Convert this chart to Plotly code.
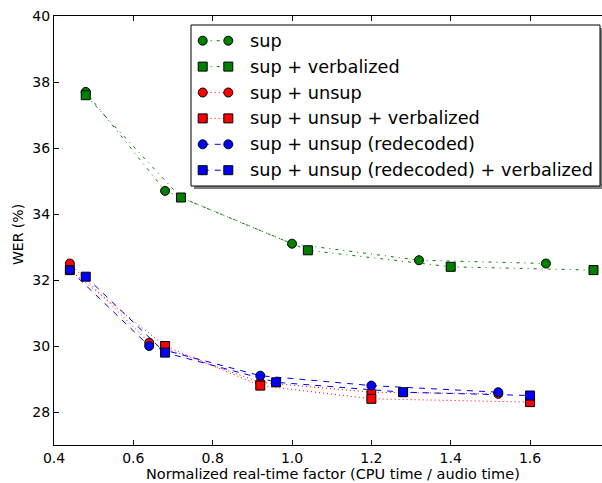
import plotly.graph_objects as go

# ---- data ----
sup_x = [0.48, 0.68, 1.00, 1.32, 1.64]
sup_y = [37.7, 34.7, 33.1, 32.6, 32.5]
supv_x = [0.48, 0.72, 1.04, 1.40, 1.76]
supv_y = [37.6, 34.5, 32.9, 32.4, 32.3]
unsup_x = [0.44, 0.64, 0.92, 1.20, 1.52]
unsup_y = [32.5, 30.1, 28.9, 28.6, 28.55]
unsupv_x = [0.44, 0.68, 0.92, 1.20, 1.60]
unsupv_y = [32.3, 30.0, 28.8, 28.4, 28.3]
red_x = [0.44, 0.64, 0.92, 1.20, 1.52]
red_y = [32.3, 30.0, 29.1, 28.8, 28.6]
redv_x = [0.48, 0.68, 0.96, 1.28, 1.60]
redv_y = [32.1, 29.8, 28.9, 28.6, 28.5]

x_ticks = [0.4, 0.6, 0.8, 1.0, 1.2, 1.4, 1.6]
x_tick_labels = ["0.4", "0.6", "0.8", "1.0", "1.2", "1.4", "1.6"]
y_ticks = [28, 30, 32, 34, 36, 38, 40]

names = ["sup", "sup + verbalized", "sup + unsup", "sup + unsup + verbalized",
         "sup + unsup (redecoded)", "sup + unsup (redecoded) + verbalized"]
xs = [sup_x, supv_x, unsup_x, unsupv_x, red_x, redv_x]
ys = [sup_y, supv_y, unsup_y, unsupv_y, red_y, redv_y]
colors = ["#008000", "#008000", "#ff0000", "#ff0000", "#0000ff", "#0000ff"]
symbols = ["circle", "square", "circle", "square", "circle", "square"]
dashes = ["3px,5px,1px,5px", "3px,5px,1px,5px", "1px,3px", "1px,3px", "6px,6px", "6px,6px"]

W, H = 602, 483
ML, MR, MT, MB = 54, 0, 16, 38
PW, PH = W - ML - MR, H - MT - MB
X_PER_UNIT = 396.7
x_max = 0.4 + PW / X_PER_UNIT

def px(x):
    return (x - ML) / PW

def py(y):
    return 1 - (y - MT) / PH

fig = go.Figure()
for i in range(6):
    fig.add_trace(go.Scatter(
        x=xs[i], y=ys[i], mode="lines+markers", name=names[i], showlegend=False,
        line=dict(color=colors[i], width=1, dash=dashes[i]),
        marker=dict(symbol=symbols[i], size=9, color=colors[i],
                    line=dict(color="black", width=1)),
        cliponaxis=False,
    ))

shapes = []
annotations = []
# legend box with shadow
lx0, lx1, ly0, ly1 = 191, 600, 25, 186
shapes.append(dict(type="rect", xref="paper", yref="paper",
                   x0=px(lx0 + 3), x1=px(lx1 + 3), y0=py(ly1 + 3), y1=py(ly0 + 3),
                   fillcolor="#808080", line=dict(width=0), layer="above"))
shapes.append(dict(type="rect", xref="paper", yref="paper",
                   x0=px(lx0), x1=px(lx1), y0=py(ly1), y1=py(ly0),
                   fillcolor="white", line=dict(color="black", width=1), layer="above"))
row0, drow = 40.7, 25.9
mx0, mx1, r = 202.7, 228.3, 4.5
for i in range(6):
    cy = row0 + i * drow
    shapes.append(dict(type="line", xref="paper", yref="paper",
                       x0=px(mx0), x1=px(mx1), y0=py(cy), y1=py(cy),
                       line=dict(color=colors[i], width=1, dash=dashes[i]), layer="above"))
    for mx in (mx0, mx1):
        shapes.append(dict(type="circle" if symbols[i] == "circle" else "rect",
                           xref="paper", yref="paper",
                           x0=px(mx - r), x1=px(mx + r), y0=py(cy + r), y1=py(cy - r),
                           fillcolor=colors[i], line=dict(color="black", width=1),
                           layer="above"))
    annotations.append(dict(text=names[i], xref="paper", yref="paper",
                            x=px(248), y=py(cy), xanchor="left", yanchor="middle",
                            showarrow=False, font=dict(size=17.7, color="black")))

# axis titles
annotations.append(dict(text="Normalized real-time factor (CPU time / audio time)",
                        xref="paper", yref="paper", x=px(332.5), y=py(483),
                        xanchor="center", yanchor="bottom", showarrow=False,
                        borderpad=0, font=dict(size=14.5, color="black")))
annotations.append(dict(text="WER (%)", xref="paper", yref="paper", x=px(18), y=py(235),
                        xanchor="center", yanchor="middle", textangle=-90,
                        showarrow=False, font=dict(size=14, color="black")))

fig.update_layout(
    width=W, height=H,
    margin=dict(l=ML, r=MR, t=MT, b=MB),
    paper_bgcolor="white", plot_bgcolor="white",
    font=dict(family="DejaVu Sans", color="black"),
    showlegend=False,
    shapes=shapes, annotations=annotations,
    xaxis=dict(range=[0.4, x_max], tickvals=x_ticks, ticktext=x_tick_labels,
               showline=True, linecolor="black", linewidth=1, mirror="allticks",
               ticks="inside", ticklen=5, tickcolor="black", showgrid=False,
               zeroline=False, tickfont=dict(size=14, color="black"),
               automargin=False),
    yaxis=dict(range=[27, 40], tickvals=y_ticks,
               showline=True, linecolor="black", linewidth=1, mirror=False,
               ticks="inside", ticklen=5, tickcolor="black", showgrid=False,
               zeroline=False, tickfont=dict(size=14, color="black"),
               automargin=False),
)

fig.write_html("out.html", config={"displayModeBar": False},
               post_script="document.body.style.margin='0';document.body.style.padding='0';")
